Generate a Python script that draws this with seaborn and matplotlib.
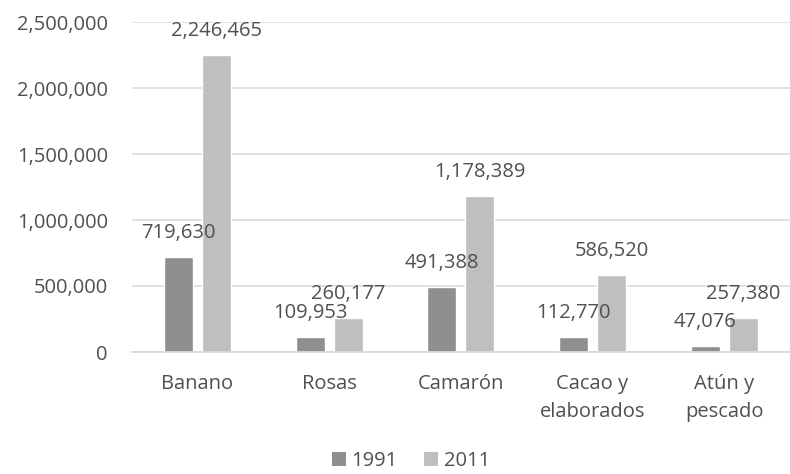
import matplotlib
matplotlib.use("Agg")
import matplotlib.pyplot as plt
from matplotlib.patches import Patch
import seaborn as sns
import pandas as pd

categories = ["Banano", "Rosas", "Camarón", "Cacao y\nelaborados", "Atún y\npescado"]
years = ["1991", "2011"]
values_1991 = [719630, 109953, 491388, 112770, 47076]
values_2011 = [2246465, 260177, 1178389, 586520, 257380]
y_ticks = [0, 500000, 1000000, 1500000, 2000000, 2500000]

colors = ["#8f8f8f", "#bfbfbf"]
text_color = "#505050"

df = pd.DataFrame({
    "categoria": categories * 2,
    "año": [years[0]] * len(categories) + [years[1]] * len(categories),
    "valor": values_1991 + values_2011,
})

sns.set_style("white")
plt.rcParams["font.family"] = ["Open Sans", "DejaVu Sans"]

fig = plt.figure(figsize=(7.9, 4.74), dpi=100)
ax = fig.add_axes([131.5 / 790, 1 - 352 / 474, (790 - 131.5) / 790, 330 / 474])

sns.barplot(data=df, x="categoria", y="valor", hue="año", hue_order=years,
            order=categories, palette=colors, width=0.578, gap=0.238,
            legend=False, ax=ax, saturation=1, errorbar=None)

ax.set_xlim(-0.5, 4.5)
ax.set_ylim(0, 2500000)
ax.set_yticks(y_ticks)
ax.set_yticklabels([f"{v:,}" for v in y_ticks])
ax.set_xlabel("")
ax.set_ylabel("")
ax.yaxis.grid(True, color="#d9d9d9", linewidth=1.1)
ax.set_axisbelow(True)
for s in ["top", "right", "left"]:
    ax.spines[s].set_visible(False)
ax.spines["bottom"].set_color("#d9d9d9")
ax.spines["bottom"].set_linewidth(1.3)
ax.tick_params(axis="both", length=0, labelsize=14.5, colors=text_color)
ax.tick_params(axis="y", pad=17)
ax.tick_params(axis="x", pad=16)
for lbl in ax.get_xticklabels():
    lbl.set_linespacing(1.5)

for cont in ax.containers:
    for bar in cont:
        h = bar.get_height()
        ax.annotate(f"{int(round(h)):,}", (bar.get_x() + bar.get_width() / 2, h),
                    xytext=(0, 17.3), textcoords="offset points",
                    ha="center", va="center", fontsize=14.5, color=text_color)

handles = [Patch(facecolor=c, edgecolor="none") for c in colors]
fig.legend(handles, years, loc="center", bbox_to_anchor=(411 / 790, 1 - 461 / 474),
           ncol=2, frameon=False, fontsize=14.5, handlelength=0.7, handleheight=0.7,
           handletextpad=0.3, columnspacing=1.3, labelcolor=text_color,
           borderpad=0.1)

fig.savefig("out.png", dpi=100)
